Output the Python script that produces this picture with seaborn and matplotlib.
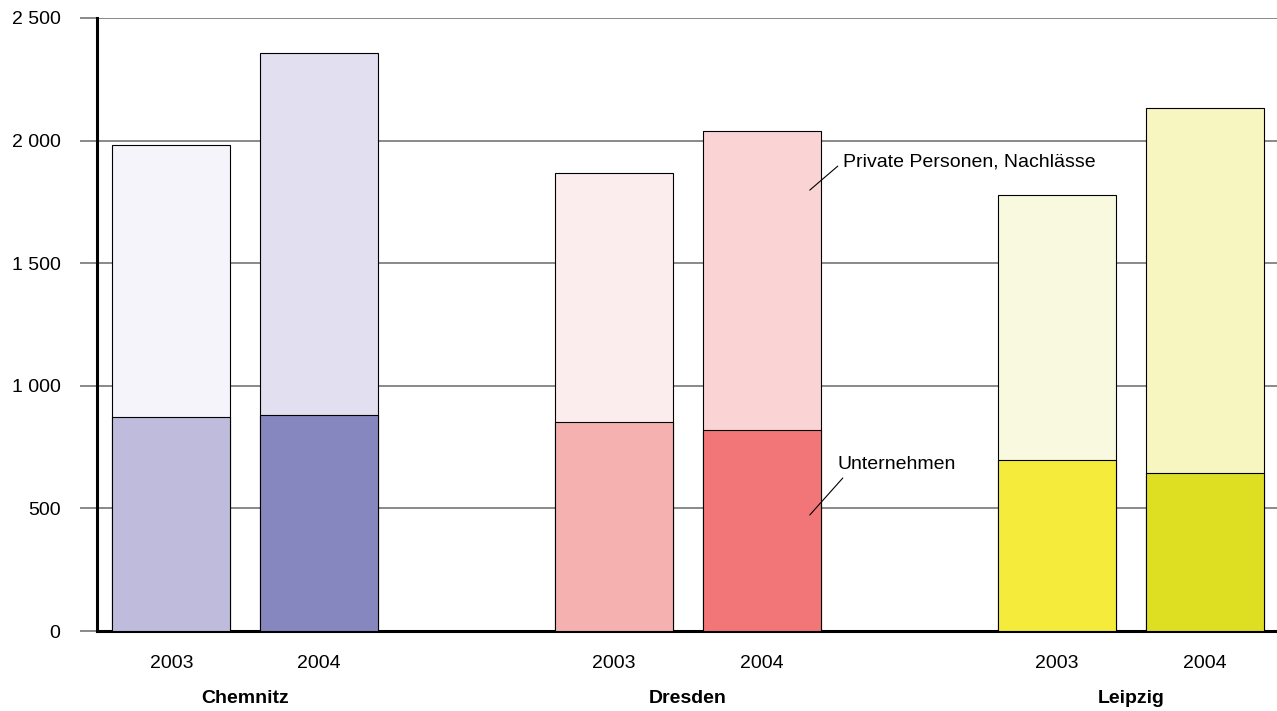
import numpy as np
import pandas as pd
import seaborn as sns
import matplotlib.pyplot as plt

# values (Anzahl)
cities = ["Chemnitz", "Dresden", "Leipzig"]
years = ["2003", "2004"]
unternehmen = [873, 881, 852, 820, 697, 644]
gesamt = [1982, 2357, 1868, 2039, 1778, 2133]
positions = [0, 1, 3, 4, 6, 7]
yticks = [0, 500, 1000, 1500, 2000, 2500]
ytick_labels = ["0", "500", "1 000", "1 500", "2 000", "2 500"]

top_colors = ["#f5f4fa", "#e1dff0", "#fbeded", "#fad4d5", "#f9f9e0", "#f7f5c0"]
bottom_colors = ["#bfbbdd", "#8787c0", "#f5b0b0", "#f27678", "#f4eb3a", "#dede22"]

df = pd.DataFrame({
    "pos": positions,
    "key": [f"{c} {y}" for c in cities for y in years],
    "unternehmen": unternehmen,
    "gesamt": gesamt,
})

sns.set_style("white")
plt.rcParams["font.family"] = ["Liberation Sans", "DejaVu Sans"]
plt.rcParams["text.color"] = "black"
plt.rcParams["xtick.color"] = "black"
plt.rcParams["ytick.color"] = "black"

fig = plt.figure(figsize=(12.77, 7.11), dpi=100)
ax = fig.add_axes([97 / 1277, 80 / 711, 1 - 97 / 1277, 613 / 711])

sns.barplot(data=df, x="pos", y="gesamt", hue="key", palette=dict(zip(df["key"], top_colors)),
            native_scale=True, dodge=False, width=0.8, saturation=1, edgecolor="black",
            linewidth=0.8, legend=False, ax=ax, zorder=2)
sns.barplot(data=df, x="pos", y="unternehmen", hue="key", palette=dict(zip(df["key"], bottom_colors)),
            native_scale=True, dodge=False, width=0.8, saturation=1, edgecolor="black",
            linewidth=0.8, legend=False, ax=ax, zorder=3)

ax.set_xlim(-0.503, 7.49)
ax.set_ylim(0, 2500)
ax.set_yticks(yticks, ytick_labels)
ax.yaxis.grid(True, color="#808080", linewidth=1.3, zorder=0)
ax.set_axisbelow(True)
ax.tick_params(axis="y", direction="out", length=12.2, width=1.3, color="#808080",
               labelcolor="black", pad=14, labelsize=14, left=True)

ax.set_xticks(positions, years * 3)
ax.tick_params(axis="x", length=0, pad=17, labelsize=14, labelcolor="black")
ax.set_xlabel("")
ax.set_ylabel("")

for s in ["top", "right"]:
    ax.spines[s].set_visible(False)
ax.spines["left"].set_linewidth(2.2)
ax.spines["bottom"].set_linewidth(2.2)
ax.spines["left"].set_color("black")
ax.spines["bottom"].set_color("black")

for i, c in enumerate(cities):
    ax.text(positions[2 * i] + 0.5, -0.11, c, transform=ax.get_xaxis_transform(),
            ha="center", va="center", fontsize=14, fontweight="bold")

ax.plot([4.325, 4.515], [1798, 1896], color="black", linewidth=0.8, zorder=4)
ax.text(4.55, 1913, "Private Personen, Nachlässe", ha="left", va="center", fontsize=14, zorder=4)
ax.plot([4.325, 4.549], [473, 624], color="black", linewidth=0.8, zorder=4)
ax.text(4.515, 677, "Unternehmen", ha="left", va="center", fontsize=14, zorder=4)

fig.savefig("out.png", dpi=100, facecolor="white")
